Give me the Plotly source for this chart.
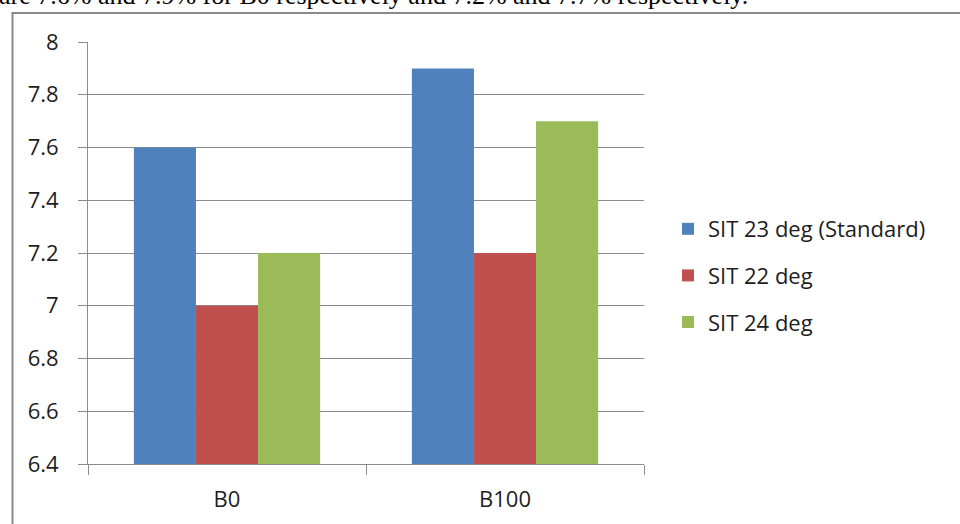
import plotly.graph_objects as go

# Data
categories = ["B0", "B100"]
series_names = ["SIT 23 deg (Standard)", "SIT 22 deg", "SIT 24 deg"]
sit23_values = [7.6, 7.9]
sit22_values = [7.0, 7.2]
sit24_values = [7.2, 7.7]
y_tick_vals = [6.4, 6.6, 6.8, 7.0, 7.2, 7.4, 7.6, 7.8, 8.0]
y_tick_text = ["6.4", "6.6", "6.8", "7", "7.2", "7.4", "7.6", "7.8", "8"]

colors = ["#4F81BD", "#C0504D", "#9BBB59"]
font_family = "'Open Sans', 'Noto Sans', sans-serif"
text_color = "#1e1e1e"
grid_color = "#8c8c8c"

W, H = 960, 524
L, R, T, B = 88, 316, 42, 60
pw, ph = W - L - R, H - T - B


def px_x(x):
    return (x - L) / pw


def px_y(y):
    return (H - B - y) / ph


fig = go.Figure()
for name, vals, col in zip(series_names, [sit23_values, sit22_values, sit24_values], colors):
    fig.add_trace(go.Bar(
        x=categories, y=vals, name=name, marker=dict(color=col, line=dict(width=0)),
        legendgroup=name,
    ))

fig.update_layout(
    width=W, height=H,
    margin=dict(l=L, r=R, t=T, b=B, pad=0),
    paper_bgcolor="white", plot_bgcolor="white",
    barmode="group", bargap=0.33, bargroupgap=0,
    font=dict(family=font_family, size=22, color=text_color),
    showlegend=True,
    legend=dict(
        x=px_x(668), y=px_y(208), xanchor="left", yanchor="top",
        font=dict(size=22, color=text_color),
        tracegroupgap=15, itemsizing="constant",
        bgcolor="rgba(0,0,0,0)",
    ),
    xaxis=dict(
        type="category", showgrid=False,
        showline=True, linecolor=grid_color, linewidth=1,
        ticks="outside", tickson="boundaries", ticklen=10, tickcolor=grid_color,
        ticklabelstandoff=16,
    ),
    yaxis=dict(
        range=[6.4, 8.0], tickvals=y_tick_vals, ticktext=y_tick_text,
        showgrid=True, gridcolor=grid_color, gridwidth=1,
        showline=True, linecolor=grid_color, linewidth=1,
        ticks="outside", ticklen=9, tickcolor=grid_color,
        ticklabelstandoff=15, zeroline=False,
    ),
)

# Chart frame
fig.add_shape(
    type="rect", xref="paper", yref="paper",
    x0=px_x(12.5), x1=px_x(1000), y0=px_y(13), y1=px_y(560),
    line=dict(color="#8a8a8a", width=2), fillcolor="rgba(0,0,0,0)", layer="below",
)

# Sentence from the surrounding text, clipped by the top edge
fig.add_annotation(
    xref="paper", yref="paper", x=px_x(-3), y=px_y(12),
    xanchor="left", yanchor="bottom", showarrow=False,
    text="are 7.6% and 7.9% for B0 respectively and 7.2% and 7.7% respectively.",
    font=dict(family="'Liberation Serif', 'Times New Roman', serif", size=26, color="#000000"),
)

fig.write_html("out.html")
